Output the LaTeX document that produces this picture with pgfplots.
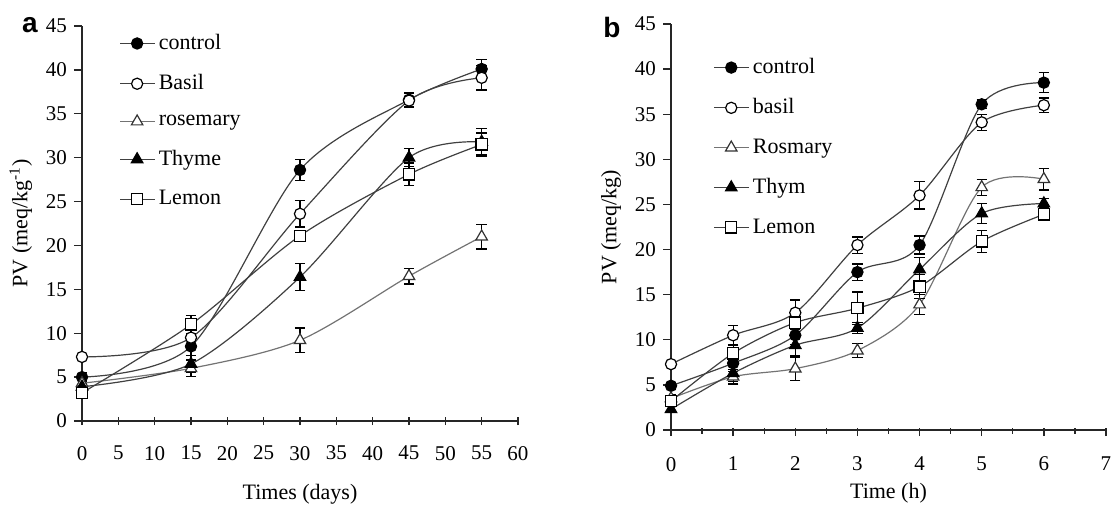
\documentclass[border=0pt]{standalone}
\usepackage{fontspec}
\setmainfont{Liberation Serif}
\newfontfamily\panelfont{Liberation Sans}
\usepackage{pgfplots}
\pgfplotsset{compat=1.18}

\pgfplotsset{
  pv/.style={
    scale only axis,
    axis x line=bottom, axis y line=left,
    axis line style={-, black!85, line width=0.7pt},
    ymin=0, ymax=45, ytick={0,5,...,45},
    tick align=outside, major tick length=4pt,
    tick style={black!85, line width=0.7pt},
    /pgf/number format/assume math mode=true,
    ticklabel style={font=\fontsize{10.5}{12}\selectfont},
    label style={font=\fontsize{11}{12}\selectfont},
    legend cell align=left,
    legend style={draw=none, fill=none, inner sep=0pt, row sep=7pt,
      font=\fontsize{11}{12}\selectfont},
    error bars/y dir=both, error bars/y explicit,
    error bars/error bar style={black, line width=0.6pt, solid},
    error bars/error mark options={rotate=90, mark size=2.6pt, line width=0.6pt, black},
  },
  ser/.style={smooth, tension=0.5, black!75, line width=0.6pt},
  sctl/.style={ser, mark=*, mark size=2.8pt,
    mark options={solid, black, line width=0.6pt, fill=black}},
  sbas/.style={ser, mark=*, mark size=2.8pt,
    mark options={solid, black, line width=0.6pt, fill=white}},
  sros/.style={ser, black!55, mark=triangle*, mark size=3.3pt,
    mark options={solid, black!80, line width=0.6pt, fill=white}},
  sthy/.style={ser, mark=triangle*, mark size=3.3pt,
    mark options={solid, black, line width=0.6pt, fill=black}},
  slem/.style={ser, mark=square*, mark size=2.8pt,
    mark options={solid, black, line width=0.6pt, fill=white}},
}

\begin{document}
\begin{tikzpicture}
\useasboundingbox (0,0) rectangle (557pt,252pt);

% panel a: storage days
\begin{axis}[pv,
  at={(41pt,41.5pt)}, anchor=south west,
  width=218pt, height=197.5pt,
  xmin=0, xmax=60, xtick={0,5,...,60},
  xtick style={yshift=2pt},
  xticklabel style={yshift=-5pt},
  xlabel={Times (days)},
  xlabel style={yshift=-5pt},
  ylabel={PV (meq/kg\textsuperscript{-1})},
  legend style={at={(0.085,0.99)}, anchor=north west},
]
\addplot+[sctl] table[y error=e] {
x y e
0 5.0 0.5
15 8.5 1.5
30 28.6 1.2
45 36.6 0.8
55 40.1 1.1
};
\addlegendentry{control}
\addplot+[sbas] table[y error=e] {
x y e
0 7.3 0.3
15 9.5 1.0
30 23.6 1.5
45 36.5 0.8
55 39.1 1.4
};
\addlegendentry{Basil}
\addplot+[sros] table[y error=e] {
x y e
0 4.3 0.3
15 6.0 0.9
30 9.2 1.4
45 16.5 0.9
55 21.0 1.4
};
\addlegendentry{rosemary}
\addplot+[sthy] table[y error=e] {
x y e
0 3.9 0.4
15 6.5 1.0
30 16.4 1.5
45 30.0 1.0
55 31.8 1.5
};
\addlegendentry{Thyme}
\addplot+[slem] table[y error=e] {
x y e
0 3.2 0.4
15 11.0 1.0
30 21.1 0.6
45 28.1 1.3
55 31.5 1.3
};
\addlegendentry{Lemon}
\end{axis}

% panel b: hours
\begin{axis}[pv,
  at={(335.5pt,37pt)}, anchor=south west,
  width=217.5pt, height=203pt,
  xmin=0, xmax=7, xtick={0,1,...,7},
  minor xtick={0.5,1.5,...,6.5},
  xtick style={yshift=1pt},
  xticklabel style={yshift=-6pt},
  xlabel={Time (h)},
  xlabel style={yshift=1pt},
  ylabel={PV (meq/kg)},
  legend style={at={(0.097,0.926)}, anchor=north west},
]
\addplot+[sctl] table[y error=e] {
x y e
0 4.9 0.4
1 7.4 0.9
2 10.5 1.0
3 17.5 0.9
4 20.5 1.0
5 36.1 0.5
6 38.5 1.1
};
\addlegendentry{control}
\addplot+[sbas] table[y error=e] {
x y e
0 7.3 0.3
1 10.5 1.1
2 13.0 1.4
3 20.5 0.9
4 26.0 1.5
5 34.1 0.9
6 36.0 0.8
};
\addlegendentry{basil}
\addplot+[sros] table[y error=e] {
x y e
0 3.5 0.4
1 5.9 0.8
2 6.8 1.3
3 8.8 0.8
4 13.9 1.1
5 26.9 0.9
6 27.8 1.2
};
\addlegendentry{Rosmary}
\addplot+[sthy] table[y error=e] {
x y e
0 2.3 0.4
1 6.3 0.9
2 9.4 1.2
3 11.3 0.6
4 17.8 1.3
5 24.0 1.1
6 25.1 0.6
};
\addlegendentry{Thym}
\addplot+[slem] table[y error=e] {
x y e
0 3.2 0.4
1 8.5 1.0
2 11.9 0.8
3 13.5 1.8
4 15.9 1.3
5 20.9 1.2
6 23.9 0.7
};
\addlegendentry{Lemon}
\end{axis}

\node[font=\panelfont\bfseries\fontsize{14}{14}\selectfont] at (15pt,239.5pt) {a};
\node[font=\panelfont\bfseries\fontsize{14}{14}\selectfont] at (306pt,238.5pt) {b};
\end{tikzpicture}
\end{document}
